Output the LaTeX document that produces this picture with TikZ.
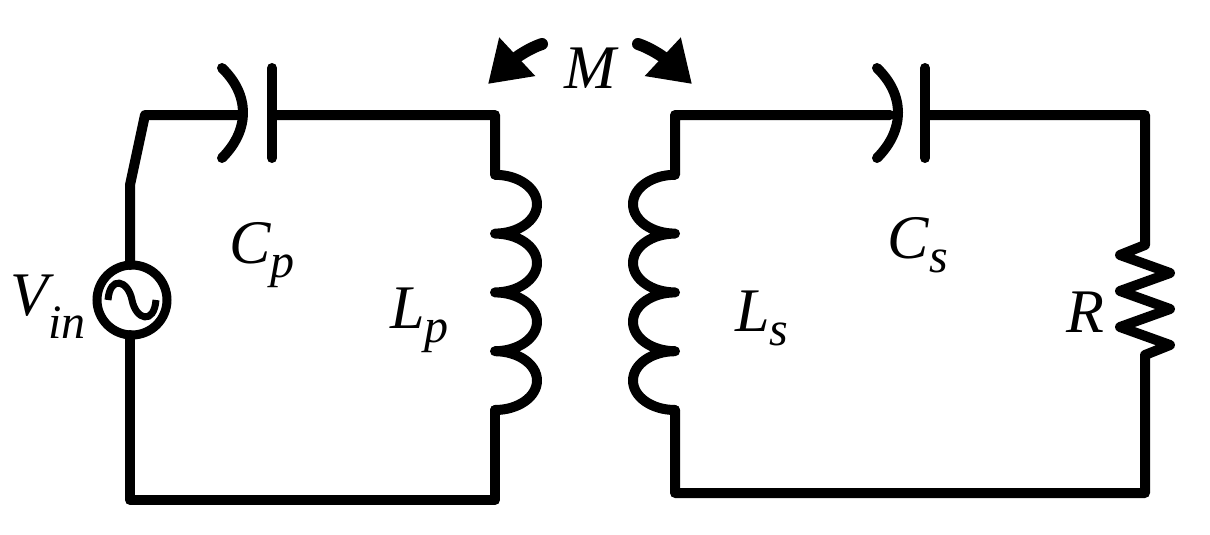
\documentclass[tikz,border=0pt]{standalone}
\usepackage{fontspec}
\setmainfont{Liberation Serif}
\usetikzlibrary{arrows.meta}
\begin{document}
\begin{tikzpicture}[x=1pt,y=-1pt,
  w/.style={line width=10pt,line join=round,line cap=round},
  lbl/.style={font=\fontsize{62}{62}\selectfont\itshape,inner sep=0}]
\useasboundingbox (0,0) rectangle (1210,535);
% left loop
\draw[w] (130,335) |- (495,500) -- (495,410);
\draw[w] (495,410) arc[start angle=90,end angle=-90,x radius=42,y radius=29.4]
 arc[start angle=90,end angle=-90,x radius=42,y radius=29.4]
 arc[start angle=90,end angle=-90,x radius=42,y radius=29.4]
 arc[start angle=90,end angle=-90,x radius=42,y radius=29.4] -- (495,115) -- (272,115);
\draw[w] (272,68) -- (272,158);
\draw[w] (222,68) .. controls (250,95) and (250,130) .. (222,158);
\draw[w] (240,115) -- (145,115) -- (130,185) -- (130,265);
\node[circle,draw,line width=9pt,minimum size=70pt,inner sep=0] (vs) at (132,300) {};
\draw[line width=7pt] (108,300) .. controls (110,275) and (128,280) .. (132,300) .. controls (136,320) and (154,325) .. (156,300);
% right loop
\draw[w] (675,410) -- (675,493) -- (1145,493) -- (1145,355)
  -- (1170,345) -- (1120,327) -- (1170,309) -- (1120,291) -- (1170,273) -- (1120,255) -- (1145,245) -- (1145,115) -- (925,115);
\draw[w] (675,410) arc[start angle=90,end angle=270,x radius=42,y radius=29.4]
 arc[start angle=90,end angle=270,x radius=42,y radius=29.4]
 arc[start angle=90,end angle=270,x radius=42,y radius=29.4]
 arc[start angle=90,end angle=270,x radius=42,y radius=29.4] -- (675,115) -- (890,115);
\draw[w] (925,68) -- (925,158);
\draw[w] (877,68) .. controls (905,95) and (905,130) .. (877,158);
% M arrows
\draw[line width=12pt,line cap=round,-{Triangle[length=40pt,width=50pt]}] (542,44) .. controls (530,48) and (518,56) .. (488,84);
\draw[line width=12pt,line cap=round,-{Triangle[length=40pt,width=50pt]}] (638,44) .. controls (650,48) and (662,56) .. (692,84);
\node[lbl] (M) at (590,68) {M};
\node[lbl] (cp) at (262,255) {C\textsubscript{\fontsize{48}{48}\selectfont p}};
\node[lbl] (lp) at (420,320) {L\textsubscript{\fontsize{48}{48}\selectfont p}};
\node[lbl] (vin) at (48,307) {V\textsubscript{\fontsize{48}{48}\selectfont in}};
\node[lbl] (ls) at (762,318) {L\textsubscript{\fontsize{48}{48}\selectfont s}};
\node[lbl] (cs) at (918,245) {C\textsubscript{\fontsize{48}{48}\selectfont s}};
\node[lbl] (r) at (1085,312) {R};
\end{tikzpicture}
\end{document}
